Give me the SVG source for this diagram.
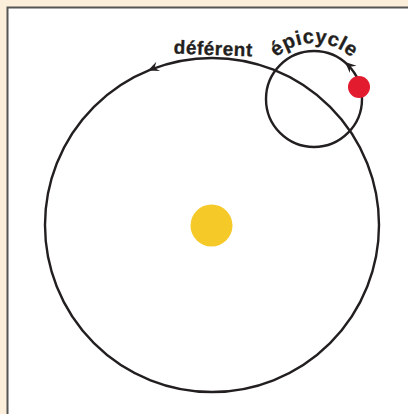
<svg xmlns="http://www.w3.org/2000/svg" width="408" height="414" viewBox="0 0 408 414">
  <style>
    .orbit { fill: none; stroke: #231f20; stroke-width: 2.4; }
    .arrow { fill: #231f20; }
    .label { font-family: "Liberation Sans", Arial, sans-serif; font-weight: bold; fill: #231f20; stroke: #231f20; stroke-width: 0.3; }
  </style>
  <defs>
    <path id="epiArc" d="M 258 99 A 56 56 0 0 1 370 99"/>
  </defs>
  <rect x="0" y="0" width="408" height="414" fill="#fbeedb"/>
  <rect x="7.5" y="7.5" width="420" height="420" fill="#ffffff" stroke="#555555" stroke-width="2"/>

  <g id="sun">
    <circle cx="211.5" cy="225.5" r="21" fill="#f5c928"/>
  </g>

  <g id="connectors">
    <circle id="deferent-orbit" class="orbit" cx="212" cy="225" r="167"/>
    <circle id="epicycle-orbit" class="orbit" cx="314" cy="99" r="48"/>
    <path class="arrow" d="M0,0 L-11,-5 L-7,0 L-11,5 Z" transform="translate(148,70.5) rotate(158)"/>
    <path class="arrow" d="M0,0 L-11,-5 L-7,0 L-11,5 Z" transform="translate(345,62) rotate(-138)"/>
  </g>

  <g id="planet">
    <circle cx="359" cy="87" r="11" fill="#e31b2f"/>
  </g>

  <g id="label-deferent">
    <text class="label" x="213" y="55" font-size="19" letter-spacing="0.5" text-anchor="middle" transform="rotate(2 213 55)">déférent</text>
  </g>
  <g id="label-epicycle">
    <text class="label" font-size="20" letter-spacing="0.5"><textPath href="#epiArc" startOffset="88" text-anchor="middle">épicycle</textPath></text>
  </g>
</svg>
